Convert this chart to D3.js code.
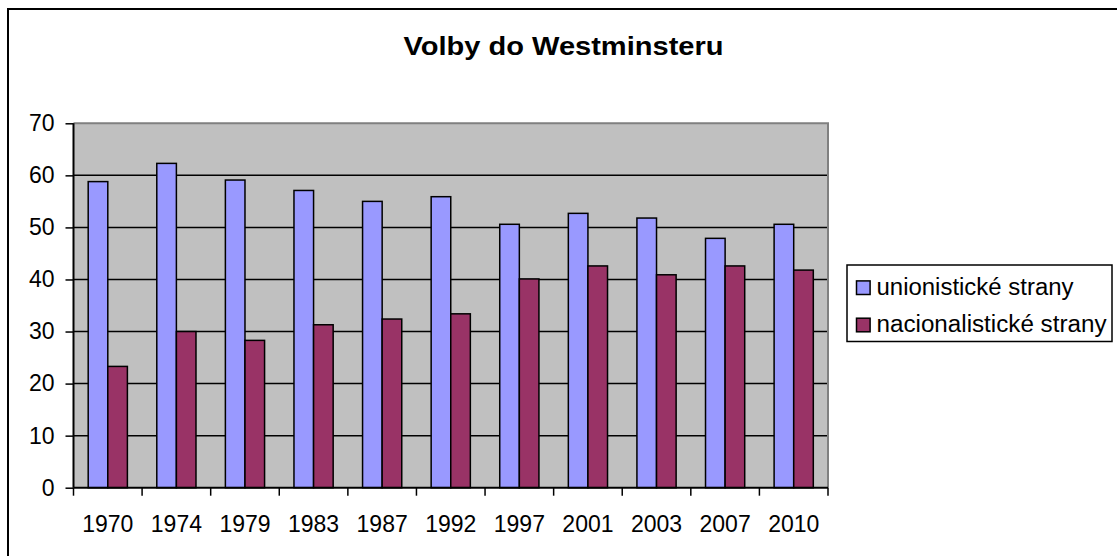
<!DOCTYPE html>
<html><head><meta charset="utf-8">
<script src="https://cdn.jsdelivr.net/npm/d3@7"></script>
<style>
html,body{margin:0;padding:0;background:#fff;}
svg{display:block;font-family:"Liberation Sans",Arial,sans-serif;}
</style></head>
<body><svg id="c" width="1117" height="556"></svg>
<script>
const years = ["1970","1974","1979","1983","1987","1992","1997","2001","2003","2007","2010"];
const unionist = [58.8,62.3,59.1,57.1,55.0,55.9,50.6,52.7,51.8,47.9,50.6];
const nationalist = [23.3,30.0,28.3,31.3,32.4,33.4,40.1,42.6,40.9,42.6,41.8];
const seriesNames = ["unionistické strany","nacionalistické strany"];
const seriesColors = ["#9999FF","#993366"];
const yTicks = [0,10,20,30,40,50,60,70];
const title = "Volby do Westminsteru";

const svg = d3.select("#c");
const L=73.5, R=828, T=123.3, B=487.7;
const FF = "Liberation Sans, Arial, sans-serif";

svg.append("rect").attr("x",8).attr("y",9).attr("width",1120).attr("height",560)
  .attr("fill","#fff").attr("stroke","#000").attr("stroke-width",2);

const x = d3.scaleBand().domain(years).range([L,R]).padding(0);
const y = d3.scaleLinear().domain([0,70]).range([B,T]);

svg.append("rect").attr("x",L).attr("y",T).attr("width",R-L).attr("height",B-T).attr("fill","#C0C0C0");

// gridlines
svg.append("g").selectAll("line").data(yTicks.filter(d=>d>0&&d<70)).join("line")
  .attr("x1",L).attr("x2",R).attr("y1",d=>y(d)).attr("y2",d=>y(d))
  .attr("stroke","#000").attr("stroke-width",1.5);
// top & right border grey
svg.append("path").attr("d",`M${L},${y(70)}H${R}V${B}`).attr("fill","none")
  .attr("stroke","#808080").attr("stroke-width",2);

const bw = x.bandwidth()/3.5;
const data = years.map((yr,i)=>({yr, vals:[unionist[i],nationalist[i]]}));
const g = svg.append("g");
data.forEach(d=>{
  d.vals.forEach((v,j)=>{
    g.append("rect")
      .attr("x", x(d.yr)+0.75*bw + j*bw)
      .attr("y", y(v))
      .attr("width", bw)
      .attr("height", y(0)-y(v))
      .attr("fill", seriesColors[j])
      .attr("stroke","#000").attr("stroke-width",1.5);
  });
});

// y axis
const ya = svg.append("g").attr("transform",`translate(${L},0)`)
  .call(d3.axisLeft(y).tickValues(yTicks).tickSize(8).tickPadding(11).tickFormat(d3.format("d")));
ya.select(".domain").attr("stroke","#000").attr("stroke-width",2).attr("d",`M0,${T}V${B}`);
ya.selectAll(".tick line").attr("stroke","#000").attr("stroke-width",1.5);
ya.selectAll(".tick text").attr("font-size",23).attr("font-family",FF).attr("fill","#000");

// x axis
const xa = svg.append("g").attr("transform",`translate(0,${B})`)
  .call(d3.axisBottom(x).tickSize(0).tickPadding(28));
xa.select(".domain").attr("stroke","#000").attr("stroke-width",2).attr("d",`M${L},0H${R}`);
xa.selectAll(".tick text").attr("font-size",23).attr("font-family",FF).attr("fill","#000");
// boundary ticks
svg.append("g").selectAll("line").data(years.concat(["end"])).join("line")
  .attr("x1",(d,i)=> i<years.length ? x(d) : R)
  .attr("x2",(d,i)=> i<years.length ? x(d) : R)
  .attr("y1",B).attr("y2",B+8).attr("stroke","#000").attr("stroke-width",1.5);

// title
svg.append("text").attr("x",563.5).attr("y",54.5).attr("text-anchor","middle")
  .attr("font-size",26.5).attr("font-weight","bold")
  .attr("textLength",320).attr("lengthAdjust","spacingAndGlyphs").text(title);

// legend
const lg = svg.append("g");
lg.append("rect").attr("x",847).attr("y",265).attr("width",265).attr("height",76.5)
  .attr("fill","#fff").attr("stroke","#000").attr("stroke-width",1.5);
const legendW = [197, 230];
seriesNames.forEach((n,i)=>{
  const cy = 287.7 + i*37.3;
  lg.append("rect").attr("x",856.5).attr("y",cy-6.8).attr("width",13.6).attr("height",13.6)
    .attr("fill",seriesColors[i]).attr("stroke","#000").attr("stroke-width",1.5);
  lg.append("text").attr("x",876.5).attr("y",cy+7.3).attr("font-size",23)
    .attr("textLength",legendW[i]).attr("lengthAdjust","spacingAndGlyphs").text(n);
});
</script></body></html>
